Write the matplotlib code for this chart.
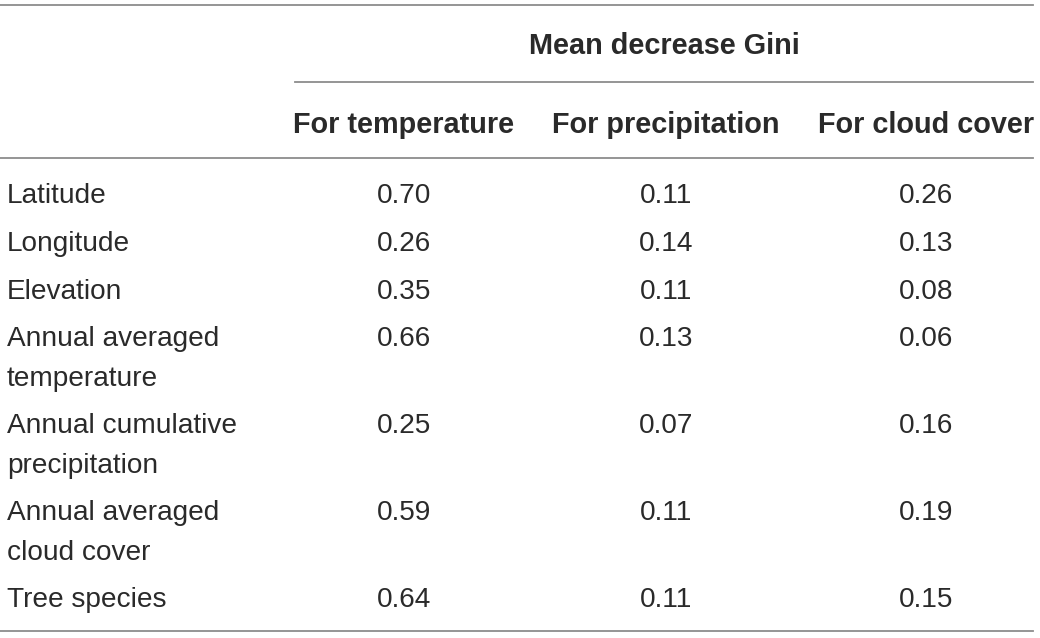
import matplotlib
matplotlib.use("Agg")
import matplotlib.pyplot as plt

plt.rcParams['font.family'] = ['Liberation Sans', 'DejaVu Sans']

# Table content
group_header = "Mean decrease Gini"
col_headers = ["For temperature", "For precipitation", "For cloud cover"]
row_labels = ["Latitude", "Longitude", "Elevation",
              "Annual averaged\ntemperature",
              "Annual cumulative\nprecipitation",
              "Annual averaged\ncloud cover",
              "Tree species"]
gini_temp = [0.70, 0.26, 0.35, 0.66, 0.25, 0.59, 0.64]
gini_prec = [0.11, 0.14, 0.11, 0.13, 0.07, 0.11, 0.11]
gini_cloud = [0.26, 0.13, 0.08, 0.06, 0.16, 0.19, 0.15]

W, H = 1040, 638
fig = plt.figure(figsize=(W / 100, H / 100), dpi=100)
ax = fig.add_axes([0, 0, 1, 1])
ax.set_xlim(0, W)
ax.set_ylim(H, 0)
ax.axis('off')

txt = '#2a2a2a'
rule = '#8c8c8c'
fs = 20.2
fs_b = 20.8

# rules
ax.plot([0, 1033], [5, 5], color=rule, lw=1.3)
ax.plot([295, 1033], [82, 82], color=rule, lw=1.3)
ax.plot([0, 1033], [158, 158], color=rule, lw=1.3)
ax.plot([0, 1033], [631, 631], color=rule, lw=1.3)

col_x = [404, 666, 926]

ax.text(664, 46, group_header, ha='center', va='center', fontsize=fs_b,
        fontweight='bold', color=txt)
for x, h in zip(col_x, col_headers):
    ax.text(x, 125, h, ha='center', va='center', fontsize=fs_b,
            fontweight='bold', color=txt)

row_y = [196, 244, 292, 339, 426, 513, 600]
line_gap = 40
for y, lab, a, b, c in zip(row_y, row_labels, gini_temp, gini_prec, gini_cloud):
    for k, part in enumerate(lab.split("\n")):
        ax.text(7, y + k * line_gap, part, ha='left', va='center',
                fontsize=fs, color=txt)
    for x, v in zip(col_x, (a, b, c)):
        ax.text(x, y, f"{v:.2f}", ha='center', va='center', fontsize=fs,
                color=txt)

fig.savefig("out.png", dpi=100)
